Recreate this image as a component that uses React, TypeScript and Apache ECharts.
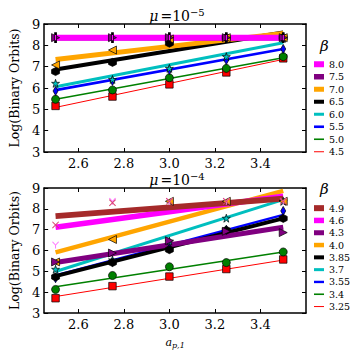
import React, { useEffect, useRef } from "react";
import * as echarts from "echarts";

const xs = [2.5, 2.75, 3.0, 3.25, 3.5];
const xTicks = [2.6, 2.8, 3.0, 3.2, 3.4];

// Top panel (mu = 1e-5), ascending beta
const topBetas = ["4.5", "5.0", "5.5", "6.0", "6.5", "7.0", "7.5", "8.0"];
const topFitStart = [5.09, 5.47, 5.9, 6.06, 6.87, 7.34, 8.36, 8.36];
const topFitEnd = [7.34, 7.42, 7.83, 8.12, 8.6, 8.56, 8.36, 8.36];
const topPoints = [
  [5.16, 5.6, 6.17, 6.73, 7.39],
  [5.47, 5.91, 6.48, 6.92, 7.47],
  [5.86, 6.33, 6.84, 7.31, 7.83],
  [6.22, 6.4, 6.92, 7.47, 8.33],
  [6.77, 7.2, 8.1, 8.36, 8.36],
  [7.08, 7.78, 8.3, 8.36, 8.36],
  [8.36, 8.36, 8.36, 8.36, 8.36],
  [8.36, 8.36, 8.36, 8.36, 8.36],
];

// Bottom panel (mu = 1e-4), ascending beta
const botBetas = ["3.25", "3.4", "3.55", "3.7", "3.85", "4.0", "4.3", "4.6", "4.9"];
const botFitStart = [3.79, 4.26, 4.8, 4.99, 4.77, 5.91, 5.42, 7.12, 7.65];
const botFitEnd = [5.54, 5.93, 7.71, 8.44, 7.54, 8.86, 7.12, 8.6, 8.49];
const botPoints = [
  [3.71, 4.29, 4.75, 5.11, 5.57],
  [4.13, 4.8, 5.22, 5.42, 5.93],
  [4.67, 5.45, 6.1, 7.0, 7.9],
  [5.1, 5.55, 6.45, 7.55, 8.36],
  [4.73, 5.42, 6.04, 6.97, 7.54],
  [5.45, 6.53, 8.36, 8.36, 8.36],
  [5.45, 5.88, 6.47, 6.92, 6.86],
  [6.27, 8.36, 8.36, 8.36, 8.36],
  [7.23, 8.29, 8.36, 8.36, 8.36],
];

const STAR =
  "path://M5,0 L6.2,3.6 L10,3.6 L6.9,5.9 L8.1,9.5 L5,7.3 L1.9,9.5 L3.1,5.9 L0,3.6 L3.8,3.6 Z";
const HEX = "path://M5,0 L9.33,2.5 L9.33,7.5 L5,10 L0.67,7.5 L0.67,2.5 Z";
const XMARK =
  "path://M0,1 L1,0 L5,4 L9,0 L10,1 L6,5 L10,9 L9,10 L5,6 L1,10 L0,9 L4,5 Z";
const YMARK =
  "path://M0,0.8 L1.2,0 L5,4.3 L8.8,0 L10,0.8 L5.7,5.5 L5.7,10 L4.3,10 L4.3,5.5 Z";
const VBAR = "path://M0,0 L2,0 L2,10 L0,10 Z";

type Style = { color: string; width: number; symbol: string; size: any; rotate?: number; edge?: boolean; mcolor?: string };

const topStyles: Style[] = [
  { color: "#ff0000", width: 1, symbol: "rect", size: 7.5, edge: true },
  { color: "#008000", width: 1.6, symbol: "circle", size: 8, edge: true },
  { color: "#0000ff", width: 2.6, symbol: "diamond", size: [5, 9], edge: true },
  { color: "#00bfbf", width: 3, symbol: STAR, size: 8, edge: true },
  { color: "#000000", width: 4, symbol: HEX, size: 8, edge: true },
  { color: "#ffa500", width: 5, symbol: "triangle", size: 8, rotate: 90, edge: true },
  { color: "#800080", width: 5.5, symbol: "triangle", size: 8, rotate: -90, edge: true },
  { color: "#ff00ff", width: 6, symbol: VBAR, size: [2, 8], edge: true },
];
const botStyles: Style[] = [
  { color: "#ff0000", width: 1, symbol: "rect", size: 7.5, edge: true },
  { color: "#008000", width: 1.6, symbol: "circle", size: 8, edge: true },
  { color: "#0000ff", width: 2.4, symbol: "diamond", size: [5, 9], edge: true },
  { color: "#00bfbf", width: 3, symbol: STAR, size: 8, edge: true },
  { color: "#000000", width: 4, symbol: HEX, size: 8, edge: true },
  { color: "#ffa500", width: 4.5, symbol: "triangle", size: 8, rotate: 90, edge: true },
  { color: "#800080", width: 5, symbol: "triangle", size: 8, rotate: -90, edge: true },
  { color: "#ff00ff", width: 5.5, symbol: YMARK, size: 7, edge: false, mcolor: "#ff77ff" },
  { color: "#a52a2a", width: 6, symbol: XMARK, size: 7, edge: false, mcolor: "#d9446f" },
];

const SERIF = "DejaVu Serif";

function buildSeries(betas: string[], fs: number[], fe: number[], pts: number[][], styles: Style[], gi: number) {
  const lines: any[] = betas.map((b, i) => ({
    type: "line",
    name: b,
    xAxisIndex: gi * 2,
    yAxisIndex: gi * 2,
    data: [
      [xs[0], fs[i]],
      [xs[xs.length - 1], fe[i]],
    ],
    showSymbol: false,
    symbol: "none",
    lineStyle: { color: styles[i].color, width: styles[i].width },
    itemStyle: { color: styles[i].color },
    z: 2,
  }));
  const scatters: any[] = betas.map((b, i) => ({
    type: "scatter",
    name: b,
    xAxisIndex: gi * 2,
    yAxisIndex: gi * 2,
    data: xs.map((x, j) => [x, pts[i][j]]),
    symbol: styles[i].symbol,
    symbolSize: styles[i].size,
    symbolRotate: styles[i].rotate || 0,
    itemStyle: {
      color: styles[i].mcolor || styles[i].color,
      borderColor: styles[i].edge ? "#000" : undefined,
      borderWidth: styles[i].edge ? 0.7 : 0,
      opacity: 1,
    },
    z: 3,
  }));
  return [...lines, ...scatters];
}

function legendFor(betas: string[], styles: Style[], top: number, itemH: number) {
  const items = betas
    .map((b, i) => ({
      name: b,
      icon: `path://M0,0 L10,0 L10,${Math.max(1, styles[i].width)} L0,${Math.max(1, styles[i].width)} Z`,
      itemStyle: { color: styles[i].color, borderWidth: 0 },
    }))
    .reverse();
  return {
    orient: "vertical",
    left: 309,
    top,
    itemWidth: 10,
    itemHeight: itemH,
    itemGap: 0,
    symbolKeepAspect: true,
    selectedMode: false,
    textStyle: {
      fontFamily: SERIF,
      fontWeight: "normal",
      fontSize: 9.5,
      color: "#000",
      lineHeight: itemH,
      padding: [0, 0, 0, 0],
    },
    data: items,
  };
}

function xAxes(gi: number) {
  return [
    {
      type: "value",
      gridIndex: gi,
      min: 2.45,
      max: 3.6,
      position: "bottom",
      axisLine: { lineStyle: { color: "#000", width: 1.5 } },
      axisTick: { inside: true, length: 4, customValues: xTicks, lineStyle: { color: "#000" } },
      axisLabel: {
        customValues: xTicks,
        formatter: (v: number) => v.toFixed(1),
        color: "#000",
        fontFamily: SERIF,
        fontSize: 13,
        margin: 5,
      },
      splitLine: { show: false },
      ...(gi === 1
        ? {
            name: "{a|a}{s|p,1}",
            nameLocation: "middle",
            nameGap: 22,
            nameTextStyle: {
              rich: {
                a: { fontFamily: SERIF, fontStyle: "italic", fontSize: 11, color: "#000" },
                s: { fontFamily: SERIF, fontStyle: "italic", fontSize: 8, color: "#000", verticalAlign: "bottom", padding: [6, 0, 0, 0] },
              },
            },
          }
        : {}),
    },
    {
      type: "value",
      gridIndex: gi,
      min: 2.45,
      max: 3.6,
      position: "top",
      axisLine: { lineStyle: { color: "#000", width: 1.5 } },
      axisTick: { inside: true, length: 4, customValues: xTicks, lineStyle: { color: "#000" } },
      axisLabel: { show: false },
      splitLine: { show: false },
    },
  ];
}

function yAxes(gi: number) {
  return [
    {
      type: "value",
      gridIndex: gi,
      min: 3,
      max: 9,
      interval: 1,
      position: "left",
      name: "Log(Binary Orbits)",
      nameLocation: "middle",
      nameGap: 17,
      nameTextStyle: { fontFamily: SERIF, fontSize: 12.5, color: "#000" },
      axisLine: { show: true, lineStyle: { color: "#000", width: 1.5 } },
      axisTick: { show: true, inside: true, length: 4, lineStyle: { color: "#000" } },
      axisLabel: { color: "#000", fontFamily: SERIF, fontSize: 13, margin: 4 },
      splitLine: { show: false },
    },
    {
      type: "value",
      gridIndex: gi,
      min: 3,
      max: 9,
      interval: 1,
      position: "right",
      axisLine: { show: true, lineStyle: { color: "#000", width: 1.5 } },
      axisTick: { show: true, inside: true, length: 4, lineStyle: { color: "#000" } },
      axisLabel: { show: false },
      splitLine: { show: false },
    },
  ];
}

function titleFor(exp: string, top: number) {
  return {
    text: `{m|μ}{n|=10}{s|${exp}}`,
    left: 172,
    textAlign: "center",
    top,
    textStyle: {
      fontWeight: "normal",
      rich: {
        m: { fontFamily: SERIF, fontStyle: "italic", fontWeight: "normal", fontSize: 14, color: "#000", padding: [0, 2, 0, 0] },
        n: { fontFamily: SERIF, fontWeight: "normal", fontSize: 14, color: "#000" },
        s: { fontFamily: SERIF, fontWeight: "normal", fontSize: 10, color: "#000", verticalAlign: "top", padding: [0, 0, 8, 0] },
      },
    },
  };
}

export default function App() {
  const ref = useRef<HTMLDivElement>(null);
  useEffect(() => {
    if (!ref.current) return;
    const chart = echarts.init(ref.current, null, { renderer: "svg" });
    const option: any = {
      animation: false,
      backgroundColor: "#fff",
      title: [titleFor("−5", 2), titleFor("−4", 166)],
      grid: [
        { left: 40, top: 24, width: 266, height: 128 },
        { left: 40, top: 188, width: 266, height: 129 },
      ],
      xAxis: [...xAxes(0), ...xAxes(1)],
      yAxis: [...yAxes(0), ...yAxes(1)],
      legend: [legendFor(topBetas, topStyles, 53, 12.5), legendFor(botBetas, botStyles, 197, 12.3)],
      graphic: [
        { type: "text", left: 320, top: 38, style: { text: "β", font: `italic 15px '${SERIF}'`, fill: "#000" } },
        { type: "text", left: 320, top: 181, style: { text: "β", font: `italic 15px '${SERIF}'`, fill: "#000" } },
      ],
      series: [
        ...buildSeries(topBetas, topFitStart, topFitEnd, topPoints, topStyles, 0),
        ...buildSeries(botBetas, botFitStart, botFitEnd, botPoints, botStyles, 1),
      ],
    };
    chart.setOption(option);
    return () => chart.dispose();
  }, []);
  return (
    <div
      ref={ref}
      style={{ position: "absolute", left: 0, top: 0, width: 350, height: 350, background: "#fff" }}
    />
  );
}
